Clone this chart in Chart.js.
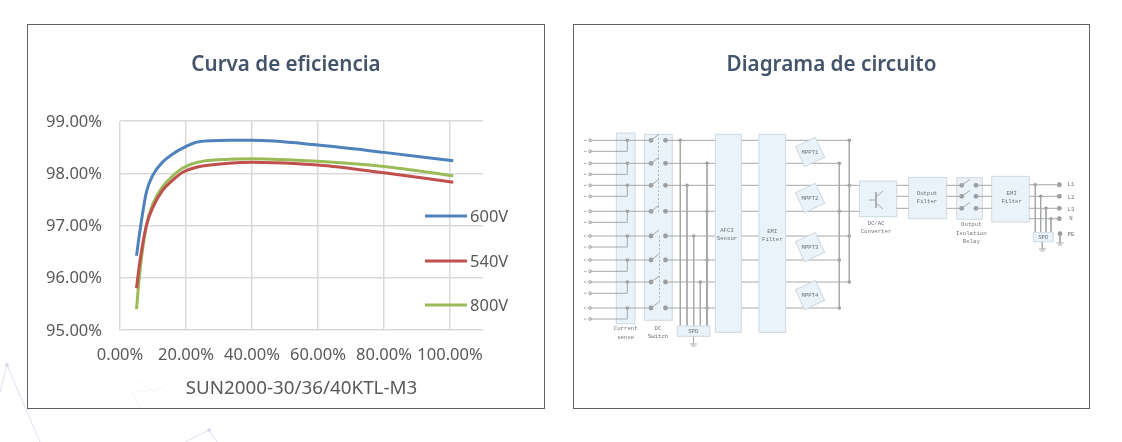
<!DOCTYPE html>
<html lang="es">
<head>
<meta charset="utf-8">
<title>Curva de eficiencia</title>
<script src="https://cdn.jsdelivr.net/npm/chart.js@4"></script>
<style>
html,body{margin:0;padding:0;background:#fff;width:1122px;height:442px;overflow:hidden}
svg.bg{position:absolute;left:0;top:0}
.panel{position:absolute;top:24px;height:385px;box-sizing:border-box;border:1px solid #5f6368;background:rgba(255,255,255,.72)}
canvas{position:absolute;top:24px}
</style>
</head>
<body>
<svg class="bg" width="1122" height="442" fill="none" stroke="#dfdfee" stroke-width="1">
<path d="M0 392L7 365L40 442M139 381L157 394M132 393L163 388M132 393L141 409M185 442L209 430L217 442"/>
<circle cx="7" cy="365" r="1.5" fill="#d5d5ea"/><circle cx="209" cy="430" r="1.5" fill="#d5d5ea"/>
</svg>
<div class="panel" style="left:27px;width:518px"></div>
<div class="panel" style="left:573px;width:517px"></div>
<canvas id="curve" width="518" height="385" style="left:27px"></canvas>
<canvas id="circuit" width="517" height="385" style="left:573px"></canvas>
<script>
// ---------- Efficiency curve data ----------
const loadPct  = [5, 6, 8, 10, 13, 16, 19, 23.5, 33, 40, 60, 80, 101];
const eff600V  = [96.42, 96.88, 97.64, 97.97, 98.22, 98.37, 98.48, 98.60, 98.63, 98.63, 98.54, 98.40, 98.24];
const eff540V  = [95.80, 96.30, 97.00, 97.35, 97.68, 97.87, 98.02, 98.12, 98.19, 98.21, 98.16, 98.01, 97.83];
const eff800V  = [95.40, 96.10, 97.00, 97.42, 97.75, 97.95, 98.10, 98.21, 98.27, 98.28, 98.23, 98.13, 97.95];
const seriesNames = ['600V', '540V', '800V'];
const xTickValues = [0, 20, 40, 60, 80, 100];
const legendRows = [192, 237, 281];
const FONT = '"Noto Sans", "Open Sans", sans-serif';
const TEXT = '#595959';
const TITLE = '#44546A';
const pts = v => v.map((y, i) => ({x: loadPct[i], y}));
const mk = (label, data, color) => ({label, data: pts(data), borderColor: color, backgroundColor: color,
  borderWidth: 3, pointRadius: 0, cubicInterpolationMode: 'monotone', fill: false});

const insideLegend = {
  id: 'insideLegend',
  afterDraw(chart) {
    const {ctx} = chart;
    ctx.save();
    ctx.font = '16.5px ' + FONT; ctx.textAlign = 'left'; ctx.textBaseline = 'middle';
    chart.data.datasets.forEach((d, i) => {
      const y = legendRows[i];
      ctx.strokeStyle = d.borderColor; ctx.lineWidth = 3;
      ctx.beginPath(); ctx.moveTo(398, y); ctx.lineTo(440, y); ctx.stroke();
      ctx.fillStyle = TEXT; ctx.fillText(d.label, 443, y + 1);
    });
    ctx.restore();
  }
};

new Chart(document.getElementById('curve'), {
  type: 'line',
  data: { datasets: [
    mk(seriesNames[0], eff600V, '#4F81BD'),
    mk(seriesNames[1], eff540V, '#C0504D'),
    mk(seriesNames[2], eff800V, '#9BBB59')
  ]},
  plugins: [insideLegend],
  options: {
    responsive: false, animation: false,
    layout: { autoPadding: false, padding: 0 },
    plugins: {
      title: { display: true, text: 'Curva de eficiencia', color: TITLE,
        font: {family: FONT, size: 20.6, weight: '600', lineHeight: 1.2},
        padding: {top: 29, bottom: 43.3} },
      legend: { display: false },
      tooltip: {enabled: false}
    },
    scales: {
      x: { type: 'linear', min: 0, max: 110,
        afterBuildTicks: s => { s.ticks = xTickValues.map(value => ({value})); },
        afterFit: s => { s.height = 79; },
        ticks: { autoSkip: false, maxRotation: 0, color: TEXT, padding: 15, font: {family: FONT, size: 16.5},
          callback: v => v.toFixed(2) + '%' },
        grid: { color: '#d9d9d9', lineWidth: 1.5, drawTicks: false },
        border: { display: false },
        title: { display: true, text: 'SUN2000-30/36/40KTL-M3', color: TEXT,
          font: {family: FONT, size: 18.8}, padding: {top: 6, bottom: 9} } },
      y: { min: 95, max: 99,
        afterFit: s => { s.width = 93; },
        ticks: { stepSize: 1, color: TEXT, padding: 18, labelOffset: 1, font: {family: FONT, size: 16.5},
          callback: v => v.toFixed(2) + '%' },
        grid: { color: '#d9d9d9', lineWidth: 1.5, drawTicks: false },
        border: { display: false } },
      yRight: { position: 'right', display: true, min: 95, max: 99,
        afterFit: s => { s.width = 62; },
        ticks: { display: false },
        grid: { display: false, drawTicks: false },
        border: { display: false } }
    }
  }
});

// ---------- Circuit diagram schematic ----------
const WIRE = '#a6a8aa', DOT = '#9a9c9e', BOXF = '#e9f3f9', BOXS = '#ced9df', LABEL = '#6d7378';
const mainRows = [140.3, 163.3, 185.3, 211.3, 236, 260, 282, 308];
const subRows  = [151.3, 174.3, 196.3, 222.3, 247, 271.3, 293.3, 319];
const senseX = [627.3, 627.3, 627.3, 627.3, 627.3, 627.3, 627.3, 627.3];
const busX   = [849.3, 839.3, 849.3, 839.3, 849.3, 839.3, 849.3, 839.3];
const spdTaps = [[680.3, 140.3], [687, 185.3], [693.7, 236], [700.3, 282], [707, 163.3], [707, 211.3], [707, 260], [707, 308]];
const underBoxes = [[616.3,133,635,323.7],[644.3,134.3,672.3,320.3],[859.3,181,896.7,216.7],[908.7,177.3,946.7,218.7],[956.7,177.7,982.3,219.3],[991.7,176.3,1029.3,222]];
const overBoxes  = [[715.3,134.3,741.3,332.3],[759,134.3,785.7,332.3],[677.3,326,710,336.3],[1033.3,232.3,1053.3,241.7]];
const mpptCentres = [[810,152,'MPPT1'],[810,198,'MPPT2'],[810,247,'MPPT3'],[810,295,'MPPT4']];
const outRows = [185.3, 196.3, 208.3];
const gridRows = [184.7, 196.3, 208.3, 218.7];
const gridTapX = [1035.3, 1040.7, 1046, 1051];
const captions = [
  ['Current',625.7,328.7],['sense',625.7,337],['DC',658,328.3],['Switch',658,336.7],['SPD',693.3,331.3],
  ['AFCI',727,230],['Sensor',727,238],['EMI',772.3,231],['Filter',772.3,239],
  ['DC/AC',876,223.7],['Converter',876,231.7],['Output',927,193.7],['Filter',927,201.7],
  ['Output',971.3,224.7],['Isolation',971.3,233],['Relay',971.3,241],['EMI',1011.7,193.3],['Filter',1011.7,201.3],
  ['SPD',1043.3,237],['L1',1071,184],['L2',1071,197.3],['L3',1071,209],['N',1071,218.7],['PE',1071,234]
];

const wires = [], small = [], big = [], open = [];
const seg = (...p) => { p.forEach(([x,y]) => wires.push({x,y})); wires.push({x:NaN,y:NaN}); };
mainRows.forEach((y, i) => {
  seg([590,y],[651,y]);
  seg([651,y],[659,y-6]);
  seg([665.5,y],[busX[i],y]);
  seg([590,subRows[i]],[senseX[i],subRows[i]],[senseX[i],y]);
  seg([584,y],[586.5,y]); seg([584,subRows[i]],[586.5,subRows[i]]);
  small.push({x:senseX[i],y},{x:busX[i],y});
  big.push({x:651,y},{x:665.5,y});
  open.push({x:590,y},{x:590,y:subRows[i]});
});
seg([849.3,140.3],[849.3,282]);
seg([839.3,163.3],[839.3,308]);
seg([849.3,185.3],[859.3,185.3]);
seg([839.3,211.3],[859.3,211.3]);
spdTaps.forEach(([x,y]) => { seg([x,y],[x,326]); small.push({x,y}); });
seg([693.5,336],[693.5,344]); seg([690,344],[697,344]); seg([691.5,346],[695.5,346]);
outRows.forEach(y => {
  seg([896.7,y],[908.7,y]);
  seg([946.7,y],[961.7,y]);
  seg([961.7,y],[970,y-6]);
  seg([976,y],[991.7,y]);
  big.push({x:961.7,y},{x:976,y});
});
gridRows.forEach((y,i) => {
  seg([1029.3,y],[1059.3,y]);
  seg([gridTapX[i],y],[gridTapX[i],232.3]);
  small.push({x:gridTapX[i],y});
  big.push({x:1059.3,y});
});
big.push({x:1060,y:233.7});
seg([1060,233.7],[1060,243]); seg([1056.5,243],[1063.5,243]); seg([1058,245],[1062,245]);
seg([1042.3,241.7],[1042.3,249]); seg([1039,249],[1046,249]); seg([1040.5,251],[1044.5,251]);
// transistor glyph
seg([869,200],[876,200]); seg([876,192],[876,208]); seg([876,197],[883,191]); seg([876,203],[883,209]);

const drawBox = (ctx, x, y) => b => {
  ctx.beginPath();
  ctx.rect(x.getPixelForValue(b[0]), y.getPixelForValue(b[1]),
    x.getPixelForValue(b[2])-x.getPixelForValue(b[0]), y.getPixelForValue(b[3])-y.getPixelForValue(b[1]));
  ctx.fill(); ctx.stroke();
};
const MONO = '5.7px "Liberation Mono", monospace';
const diagramLayers = {
  id: 'diagramLayers',
  beforeDatasetsDraw(chart) {
    const {ctx, scales:{x,y}} = chart;
    ctx.save(); ctx.fillStyle = BOXF; ctx.strokeStyle = BOXS; ctx.lineWidth = 1;
    underBoxes.forEach(drawBox(ctx, x, y));
    ctx.restore();
  },
  afterDatasetsDraw(chart) {
    const {ctx, scales:{x,y}} = chart;
    ctx.save(); ctx.fillStyle = BOXF; ctx.strokeStyle = BOXS; ctx.lineWidth = 1;
    overBoxes.forEach(drawBox(ctx, x, y));
    ctx.textAlign = 'center'; ctx.textBaseline = 'middle';
    mpptCentres.forEach(([cx,cy,name]) => {
      ctx.save();
      ctx.translate(x.getPixelForValue(cx), y.getPixelForValue(cy));
      ctx.rotate(-25*Math.PI/180);
      ctx.beginPath(); ctx.rect(-11,-11,22,22); ctx.fill(); ctx.stroke();
      ctx.restore();
      ctx.fillStyle = LABEL; ctx.font = MONO;
      ctx.fillText(name, x.getPixelForValue(cx), y.getPixelForValue(cy));
      ctx.fillStyle = BOXF;
    });
    ctx.fillStyle = LABEL; ctx.font = MONO;
    captions.forEach(([t,cx,cy]) => ctx.fillText(t, x.getPixelForValue(cx), y.getPixelForValue(cy)));
    // DC-switch ganged dashes
    ctx.strokeStyle = WIRE; ctx.setLineDash([2,2]); ctx.lineWidth = 0.8;
    [[658.5,138,212],[659.5,236,303]].forEach(([px,a,b]) => {
      ctx.beginPath(); ctx.moveTo(x.getPixelForValue(px),y.getPixelForValue(a)); ctx.lineTo(x.getPixelForValue(px),y.getPixelForValue(b)); ctx.stroke();
    });
    ctx.restore();
  }
};

new Chart(document.getElementById('circuit'), {
  type: 'scatter',
  data: { datasets: [
    {label:'wires', data:wires, showLine:true, spanGaps:false, borderColor:WIRE, borderWidth:1, pointRadius:0, tension:0},
    {label:'junctions', data:small, showLine:false, pointRadius:1.8, backgroundColor:DOT, borderWidth:0},
    {label:'contacts', data:big, showLine:false, pointRadius:2.4, backgroundColor:DOT, borderWidth:0},
    {label:'inputs', data:open, showLine:false, pointRadius:1.4, backgroundColor:'#fff', borderColor:'#8d8f91', borderWidth:0.8}
  ]},
  plugins: [diagramLayers],
  options: {
    responsive:false, animation:false,
    layout:{autoPadding:false, padding:0},
    plugins:{
      legend:{display:false}, tooltip:{enabled:false},
      title:{display:true, text:'Diagrama de circuito', color:TITLE,
        font:{family:FONT,size:20.7,weight:'600',lineHeight:1.2}, padding:{top:29,bottom:22.2}}
    },
    scales:{
      x:{type:'linear',display:false,min:573,max:1090},
      y:{type:'linear',display:false,min:100,max:409,reverse:true}
    }
  }
});
</script>
</body>
</html>
